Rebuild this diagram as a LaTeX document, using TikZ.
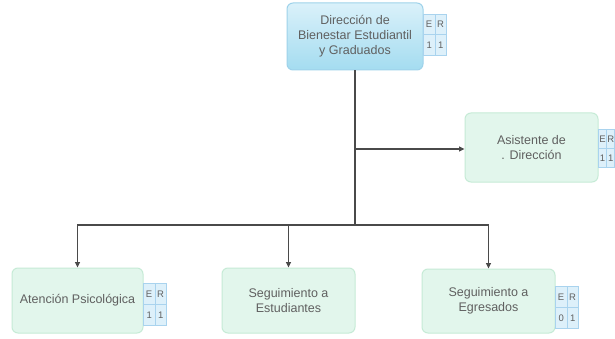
\documentclass[tikz,border=0pt]{standalone}
\usepackage{fontspec}
\setmainfont{Liberation Sans}
\usetikzlibrary{arrows.meta,positioning}
\definecolor{txt}{HTML}{606060}
\definecolor{ln}{HTML}{4A4A4A}
\definecolor{mint}{HTML}{E2F6EC}
\definecolor{mintd}{HTML}{C6EBD6}
\definecolor{bluet}{HTML}{DAF1FA}
\definecolor{blueb}{HTML}{A4DCF0}
\definecolor{bluebd}{HTML}{9ED2EA}
\definecolor{cellf}{HTML}{DDF0FA}
\definecolor{celld}{HTML}{A9D3EE}
\tikzset{
  x=1pt,y=-1pt,
  unit/.style={draw=mintd,fill=mint,rounded corners=6pt,line width=1pt,
    text=txt,font=\fontsize{12.5}{15}\selectfont,align=center,inner sep=0pt},
  topunit/.style={draw=bluebd,top color=bluet,bottom color=blueb,rounded corners=6pt,
    line width=1pt,text=txt,font=\fontsize{12.5}{15}\selectfont,align=center,inner sep=0pt},
  ercell/.style={draw=celld,fill=cellf,line width=0.8pt,
    inner sep=0pt,text=txt,font=\fontsize{9.5}{10}\selectfont},
  conn/.style={draw=ln,line width=1.1pt},
  arr/.style={conn,-{Triangle[length=5.5pt,width=5pt]}},
}
\newcommand\ertab[7]{% name, x left, y top, row height, cell width, v1, v2
  \node[ercell,minimum height=#4pt,minimum width=#5pt,anchor=north west] (#1e) at (#2,#3) {E};
  \node[ercell,minimum height=#4pt,minimum width=#5pt,anchor=north west] (#1r) at (#2+#5,#3) {R};
  \node[ercell,minimum height=#4pt,minimum width=#5pt,anchor=north west] (#1a) at (#2,#3+#4) {#6};
  \node[ercell,minimum height=#4pt,minimum width=#5pt,anchor=north west] (#1b) at (#2+#5,#3+#4) {#7};
}
\begin{document}
\begin{tikzpicture}
\useasboundingbox (0,0) rectangle (615,339);
\clip (0,0) rectangle (615,339);
\fill[white] (0,0) rectangle (615,339);

\node[topunit,minimum width=136pt,minimum height=67pt] (dir) at (355,36.5)
  {Dirección de\\Bienestar Estudiantil\\y Graduados};
\ertab{tdir}{423}{14}{20.5}{11.5}{1}{1}

\node[unit,minimum width=133pt,minimum height=69pt] (asis) at (531.5,147.5)
  {Asistente de\\. Dirección};
\ertab{tasis}{598}{129}{19}{8.2}{1}{1}

\node[unit,minimum width=131pt,minimum height=65pt] (aten) at (77.5,300.5)
  {Atención Psicológica};
\ertab{taten}{143}{283}{21}{11.5}{1}{1}

\node[unit,minimum width=133pt,minimum height=65pt] (estu) at (288.5,300.5)
  {Seguimiento a\\Estudiantes};

\node[unit,minimum width=133pt,minimum height=64pt] (egre) at (488.5,301)
  {Seguimiento a\\Egresados};
\ertab{tegre}{555}{286}{21}{11.5}{0}{1}

\coordinate (b) at (355,149);
\coordinate (j) at (355,225);
\draw[conn] (dir.south) -- (j);
\draw[arr] (b) -- (b -| asis.west);
\draw[arr] (j) -| (aten.north);
\draw[arr] (j) -| (estu.north);
\draw[arr] (j) -| (egre.north);
\end{tikzpicture}
\end{document}
